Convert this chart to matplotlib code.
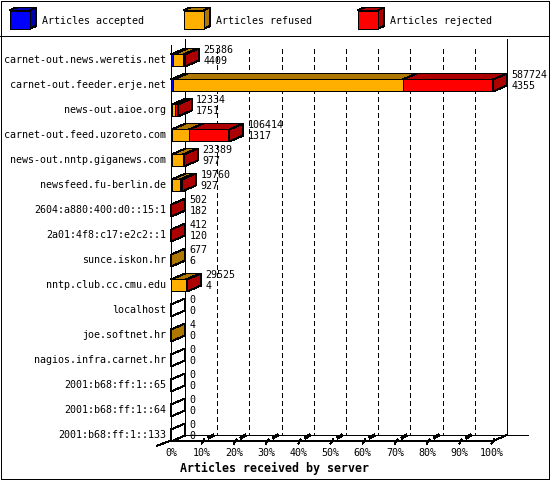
import numpy as np
import matplotlib
matplotlib.use("Agg")
import matplotlib.pyplot as plt
from matplotlib.colors import to_rgb

# data
servers = ["carnet-out.news.weretis.net", "carnet-out.feeder.erje.net", "news-out.aioe.org",
           "carnet-out.feed.uzoreto.com", "news-out.nntp.giganews.com", "newsfeed.fu-berlin.de",
           "2604:a880:400:d0::15:1", "2a01:4f8:c17:e2c2::1", "sunce.iskon.hr",
           "nntp.club.cc.cmu.edu", "localhost", "joe.softnet.hr", "nagios.infra.carnet.hr",
           "2001:b68:ff:1::65", "2001:b68:ff:1::64", "2001:b68:ff:1::133"]
received = [25386, 587724, 12334, 106414, 23389, 19760, 502, 412, 677, 29525, 0, 4, 0, 0, 0, 0]
accepted = [4409, 4355, 1751, 1317, 977, 927, 182, 120, 6, 4, 0, 0, 0, 0, 0, 0]
refused = [17977, 418500, 5500, 31600, 21000, 15500, 150, 100, 671, 27400, 0, 4, 0, 0, 0, 0]
rejected = [3000, 164869, 5083, 73497, 1412, 3333, 170, 192, 0, 2121, 0, 0, 0, 0, 0, 0]
series_names = ["Articles accepted", "Articles refused", "Articles rejected"]
series_colors = ["#0000FF", "#FFAF00", "#FF0000"]
x_ticks = [0, 10, 20, 30, 40, 50, 60, 70, 80, 90, 100]
xlabel = "Articles received by server"

FONT = "DejaVu Sans Mono"
LW = 0.72  # one pixel


def darker(c, f=0.68):
    r, g, b = to_rgb(c)
    return (r * f, g * f, b * f)


fig = plt.figure(figsize=(5.5, 4.8), dpi=100)

# canvas for the frame and the legend
bg = fig.add_axes([0, 0, 1, 1])
bg.set_xlim(0, 550)
bg.set_ylim(480, 0)
bg.axis("off")
bg.add_patch(plt.Rectangle((0.5, 0.5), 548.5, 478.5, fill=False, ec="black", lw=LW, antialiased=False))
bg.plot([0, 550], [35.5, 35.5], color="black", lw=LW, antialiased=False)

leg_x = [9.5, 183.5, 357.5]
for x0, name, col in zip(leg_x, series_names, series_colors):
    w, h, d, e = 20, 18.5, 6.5, 3
    y0 = 10.5
    bg.fill([x0, x0 + w, x0 + w + d, x0 + d], [y0, y0, y0 - e, y0 - e],
            fc=darker(col), ec="black", lw=LW, antialiased=False)
    bg.fill([x0 + w, x0 + w, x0 + w + d, x0 + w + d], [y0, y0 + h, y0 + h - e, y0 - e],
            fc=darker(col), ec="black", lw=LW, antialiased=False)
    bg.fill([x0, x0 + w, x0 + w, x0], [y0, y0, y0 + h, y0 + h],
            fc=col, ec="black", lw=LW, antialiased=False)
    bg.text(x0 + 33, 24, name, family=FONT, fontsize=7.2, va="baseline", ha="left")

# main plot, x in percent of the largest server, y in rows
ax = fig.add_axes([171 / 550, 39 / 480, 322 / 550, 396 / 480])
TOP, BASE = -0.62, 15.22
ax.set_xlim(0, 100)
ax.set_ylim(BASE, TOP)
ax.axis("off")

PX_X = 100 / 322
PX_Y = 1 / 25
DX = 14 * PX_X
DY = 6 * PX_Y
H = 6 * PX_Y

# walls and grid
ax.plot([0, 0], [TOP, BASE], color="black", lw=LW, antialiased=False, clip_on=False, zorder=3)
ax.plot([DX, DX], [TOP - DY, BASE - DY], color="black", lw=LW, antialiased=False, clip_on=False, zorder=1)
ax.plot([100 + DX, 100 + DX], [TOP - DY, BASE - DY], color="black", lw=LW, antialiased=False,
        clip_on=False, zorder=1)
for t in x_ticks[1:-1]:
    ln, = ax.plot([t + DX, t + DX], [TOP - DY + 0.4, BASE - DY], color="black", lw=LW,
                  antialiased=False, clip_on=False, zorder=1)
    ln.set_dashes((5, 4))
ax.plot([DX, 100 + DX + 21 * PX_X], [BASE - DY, BASE - DY], color="black", lw=LW,
        antialiased=False, clip_on=False, zorder=1)
ax.plot([-DX, DX], [BASE + DY * 0.8, BASE - DY], color="black", lw=LW, antialiased=False,
        clip_on=False, zorder=3)
ax.plot([0, 100, 100 + DX], [BASE, BASE, BASE - DY], color="black", lw=LW, antialiased=False,
        clip_on=False, zorder=3)
for t in x_ticks[1:]:
    ax.plot([t - 1.5 * PX_X, t + 1 * PX_X], [BASE + 2.5 * PX_Y, BASE - 1.5 * PX_Y], color="black",
            lw=LW, antialiased=False, clip_on=False, zorder=3)
    if t < 100:
        ax.plot([t + 6 * PX_X, t + 9.5 * PX_X], [BASE - 3.5 * PX_Y, BASE - 5.5 * PX_Y], color="black",
                lw=1.6, antialiased=False, clip_on=False, zorder=3)
    ax.text(t - 1.5 * PX_X, BASE + 15.5 * PX_Y, "%d%%" % t, family=FONT, fontsize=7.2,
            ha="center", va="baseline")
ax.text(0, BASE + 15.5 * PX_Y, "0%", family=FONT, fontsize=7.2, ha="center", va="baseline")
ax.text(9 * PX_X, BASE + 31 * PX_Y, xlabel, family=FONT, fontsize=8.4, weight="bold",
        ha="left", va="baseline")

vmax = max(received)
acc_p = np.array(accepted) / vmax * 100
ref_p = np.array(refused) / vmax * 100
rej_p = np.array(rejected) / vmax * 100

for row, name in enumerate(servers):
    yt, yb = row - H, row + H
    edges = [0, acc_p[row], acc_p[row] + ref_p[row], acc_p[row] + ref_p[row] + rej_p[row]]
    end = edges[-1]
    side_col = "white"
    for k in range(3):
        s, e = edges[k], edges[k + 1]
        if e - s <= 0:
            continue
        side_col = darker(series_colors[k])
        if e - s < 1 * PX_X:
            continue
        ax.fill([s, e, e, s], [yt, yt, yb, yb], fc=series_colors[k], ec="black", lw=LW,
                antialiased=False, clip_on=False, zorder=4)
        ax.fill([s, e, e + DX, s + DX], [yt, yt, yt - DY, yt - DY], fc=darker(series_colors[k]),
                ec="black", lw=LW, antialiased=False, clip_on=False, zorder=4)
    ax.fill([end, end, end + DX, end + DX], [yt, yb, yb - DY, yt - DY], fc=side_col, ec="black",
            lw=LW, antialiased=False, clip_on=False, zorder=5)

    lx = end + DX + 4.5 * PX_X
    ax.text(lx, row - 7.5 * PX_Y, str(received[row]), family=FONT, fontsize=7.2,
            ha="left", va="baseline", zorder=6)
    ax.text(lx, row + 3.5 * PX_Y, str(accepted[row]), family=FONT, fontsize=7.2,
            ha="left", va="baseline", zorder=6)
    ax.text(-5 * PX_X, row + 2.5 * PX_Y, name, family=FONT, fontsize=7.2,
            ha="right", va="baseline")

fig.savefig("out.png", dpi=100, facecolor="white")
